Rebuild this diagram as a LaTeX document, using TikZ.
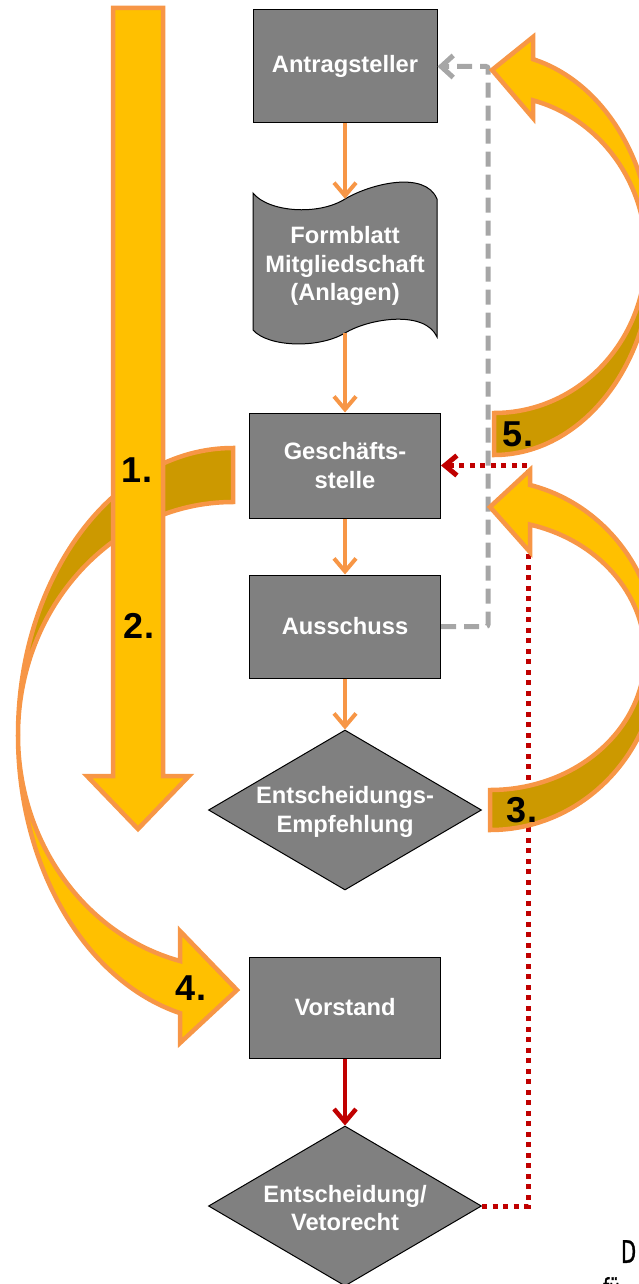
\documentclass[tikz,border=0pt]{standalone}
\usepackage{fontspec}
\setmainfont{Liberation Sans}
\newfontfamily\condfont[FakeStretch=0.62, FakeBold=1.2]{DejaVu Sans}
\usetikzlibrary{arrows.meta,shapes.geometric}
\definecolor{gold}{HTML}{FFC000}
\definecolor{darkgold}{HTML}{CC9900}
\definecolor{orline}{HTML}{F79646}
\definecolor{boxgray}{HTML}{808080}
\definecolor{dashgray}{HTML}{A6A6A6}
\definecolor{darkred}{HTML}{C00000}
\begin{document}
\begin{tikzpicture}[x=1pt,y=1pt,
  boxtxt/.style={text=white, font=\bfseries\fontsize{23.7}{28.5}\selectfont, align=center, inner sep=0pt},
  box/.style={boxtxt, rectangle, draw=black, line width=1pt, fill=boxgray, minimum width=191pt},
  dia/.style={diamond, draw=black, line width=1pt, fill=boxgray, minimum width=273pt, minimum height=160pt, inner sep=0pt},
  conn/.style={draw=orline, line width=4pt, -{Straight Barb[length=13pt,width=22pt]}},
  redconn/.style={draw=darkred, line width=4.5pt, -{Straight Barb[length=13pt,width=22pt]}},
  grayd/.style={draw=dashgray, line width=5pt, dash pattern=on 15pt off 8pt, rounded corners=2pt, -{Straight Barb[length=12pt,width=22pt]}},
  reddot/.style={draw=darkred, line width=5pt, dash pattern=on 5pt off 5.5pt, -{Straight Barb[length=12pt,width=20pt]}},
  bigarrow/.style={fill=gold, draw=orline, line width=4.5pt, line join=miter},
  bigback/.style={fill=darkgold, draw=orline, line width=4.5pt, line join=miter},
  numlab/.style={font=\bfseries\fontsize{36}{36}\selectfont, text=black, inner sep=0pt},
  logotxt/.style={anchor=north west, inner sep=0pt, text=black, font=\condfont\fontsize{31}{31}\selectfont}
]
\useasboundingbox (0,0) rectangle (638,-1284);

% ---------- boxes ----------
\node[box, minimum width=184pt, minimum height=113pt] (ant) at (345,-66.5) {Antragsteller};

\filldraw[fill=boxgray, draw=black, line width=1pt]
  (253,-193) .. controls (268,-212) and (318,-216) .. (345,-199)
  .. controls (370,-184) and (425,-170) .. (437,-199)
  -- (437,-337) .. controls (425,-310) and (370,-318) .. (345,-333)
  .. controls (318,-349) and (268,-347) .. (253,-330) -- cycle;
\node[boxtxt, minimum height=134pt] (form) at (345,-266) {Formblatt\\Mitgliedschaft\\(Anlagen)};

\node[box, minimum height=105pt] (gs) at (345,-465.5) {Geschäfts-\\stelle};
\node[box, minimum height=103pt] (aus) at (345,-626.5) {Ausschuss};
\node[dia] (emp) at (345,-810) {};
\node[boxtxt] (emptxt) at (345,-812) {Entscheidungs-\\Empfehlung};
\node[box, minimum height=101pt] (vor) at (345,-1007.5) {Vorstand};
\node[dia] (ent) at (345,-1206) {};
\node[boxtxt] (enttxt) at (345,-1208) {Entscheidung/\\Vetorecht};

% ---------- connectors ----------
\draw[conn] (ant.south) -- (form.north);
\draw[conn] (form.south) -- (gs.north);
\draw[conn] (gs.south) -- (aus.north);
\draw[conn] (aus.south) -- (emp.north);
\draw[redconn] (vor.south) -- (ent.north);

\coordinate (gcorner) at (488,-66.5);
\draw[grayd] (aus.east) -| (gcorner) -- (ant.east);
\coordinate (rcorner) at (528,-465.5);
\draw[reddot] (ent.east) -| (rcorner) -- (gs.east);

% ---------- left curved arrow (4.) ----------
\path[bigback] (233,-448) arc[start angle=90, end angle=180, x radius=215, y radius=287]
  arc[start angle=180, end angle=90, x radius=215, y radius=233] -- cycle;
\path[bigarrow] (18,-735) arc[start angle=180, end angle=255.73, x radius=215, y radius=287]
  -- (180,-1043) -- (237,-990) -- (180,-931) -- (180,-961)
  arc[start angle=255.73, end angle=180, x radius=215, y radius=233] -- cycle;

% ---------- straight arrow (1./2.) ----------
\path[bigarrow] (113,-8) -- (163,-8) -- (163,-776) -- (189,-776) -- (138,-829)
  -- (87,-776) -- (113,-776) -- cycle;

% ---------- right curved arrow (5.) ----------
\path[bigback] (652.5,-254) arc[start angle=0, end angle=-90, x radius=158.5, y radius=201]
  -- (494,-413) arc[start angle=-90, end angle=0, x radius=152, y radius=159] -- cycle;
\path[bigarrow] (533,-59.18) arc[start angle=75.756, end angle=0, x radius=158.5, y radius=201]
  -- (646,-254) arc[start angle=0, end angle=75.13, x radius=152, y radius=159]
  -- (533,-118) -- (492,-70) -- (533,-37) -- cycle;

% ---------- right curved arrow (3.) ----------
\path[bigback] (658,-655) arc[start angle=0, end angle=-90, x radius=168, y radius=175]
  -- (490,-790) arc[start angle=-90, end angle=0, x radius=155, y radius=135] -- cycle;
\path[bigarrow] (530,-485) arc[start angle=76.23, end angle=0, x radius=168, y radius=175]
  -- (645,-655) arc[start angle=0, end angle=75.04, x radius=155, y radius=135]
  -- (530,-552) -- (490,-507) -- (530,-470) -- cycle;

% ---------- numbers ----------
\node[numlab] (n1) at (137,-470) {1.};
\node[numlab] (n2) at (139,-626) {2.};
\node[numlab] (n3) at (522,-810) {3.};
\node[numlab] (n4) at (191,-988) {4.};
\node[numlab] (n5) at (518,-434) {5.};

% ---------- cut-off text bottom right (as in the reference) ----------
\node[logotxt] (logoD) at (621,-1240) {D};
\node[logotxt, font=\condfont\fontsize{27}{27}\selectfont] (logofu) at (603,-1277) {fü};
\end{tikzpicture}
\end{document}
